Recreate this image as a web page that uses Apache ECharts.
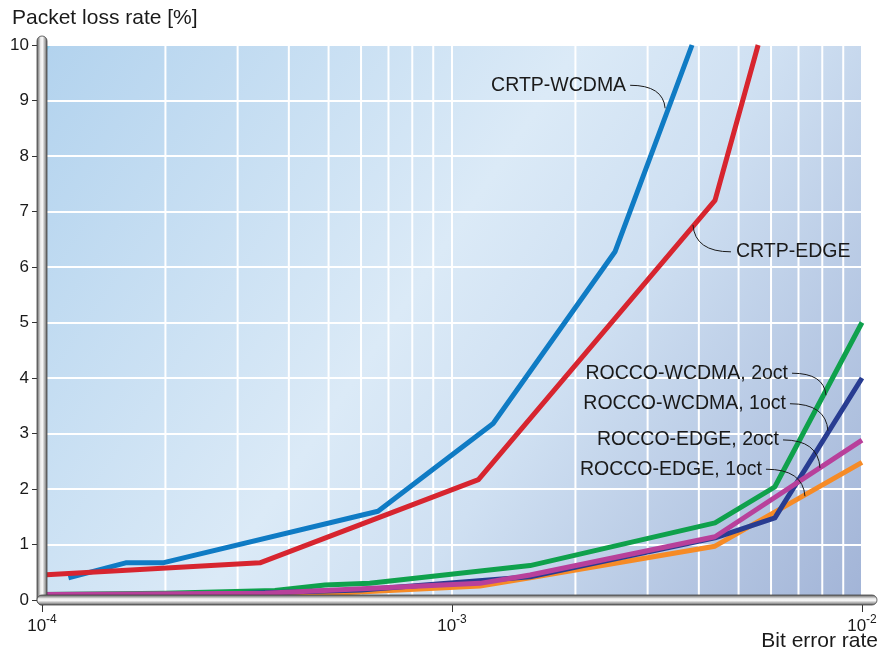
<!DOCTYPE html>
<html><head><meta charset="utf-8">
<script src="https://cdn.jsdelivr.net/npm/echarts@6/dist/echarts.min.js"></script>
<style>html,body{margin:0;padding:0;background:#fff}#c{width:892px;height:654px}</style>
</head><body><div id="c"></div>
<script>
// ---- data ----
const crtpWcdmaX = [1.16e-4, 1.6e-4, 1.97e-4, 6.6e-4, 1.26e-3, 2.5e-3, 3.85e-3];
const crtpWcdmaY = [0.40, 0.67, 0.67, 1.60, 3.18, 6.28, 10.0];
const crtpEdgeX  = [1e-4, 3.4e-4, 1.16e-3, 4.38e-3, 5.58e-3];
const crtpEdgeY  = [0.45, 0.67, 2.17, 7.2, 10.0];
const roccoW2X   = [1e-4, 2e-4, 3.7e-4, 4.9e-4, 6.3e-4, 1.55e-3, 4.38e-3, 6.13e-3, 1e-2];
const roccoW2Y   = [0.10, 0.12, 0.17, 0.27, 0.30, 0.62, 1.39, 2.04, 5.0];
const roccoW1X   = [1e-4, 2.5e-4, 6e-4, 1.55e-3, 4.38e-3, 6.13e-3, 1e-2];
const roccoW1Y   = [0.08, 0.10, 0.18, 0.42, 1.12, 1.48, 4.0];
const roccoE2X   = [1e-4, 3.5e-4, 1.17e-3, 1.55e-3, 4.38e-3, 1e-2];
const roccoE2Y   = [0.10, 0.12, 0.30, 0.45, 1.14, 2.88];
const roccoE1X   = [1e-4, 4e-4, 1.17e-3, 1.55e-3, 4.38e-3, 1e-2];
const roccoE1Y   = [0.05, 0.08, 0.25, 0.40, 0.97, 2.48];

const seriesNames = ['CRTP-WCDMA', 'CRTP-EDGE', 'ROCCO-WCDMA, 2oct', 'ROCCO-WCDMA, 1oct', 'ROCCO-EDGE, 2oct', 'ROCCO-EDGE, 1oct'];
const xMin = 1e-4, xMax = 1e-2;
const yMin = 0, yMax = 10, yStep = 1;
const xMinorGrid = [2e-4,3e-4,4e-4,5e-4,6e-4,7e-4,8e-4,9e-4,2e-3,3e-3,4e-3,5e-3,6e-3,7e-3,8e-3,9e-3];
// label anchors on the curves (data coords)
const annotAnchors = [[3.31e-3, 8.86], [3.87e-3, 6.76], [8.17e-3, 3.69], [8.26e-3, 3.05], [7.9e-3, 2.38], [7.26e-3, 1.87]];

// ---- styling ----
const FONT = '"Liberation Sans", Arial, Helvetica, sans-serif';
const colors = ['#0f7bc4', '#d7252f', '#0fa14c', '#283c91', '#b8409b', '#f68b26'];
const annotOffsets = [[-35,-23,'left'], [38,27,'right'], [-34,-22,'left'], [-38,-27,'left'], [-37,-28,'left'], [-39,-27,'left']];
const drawOrder = [2, 5, 3, 4, 0, 1];

function zip(xs, ys){ return xs.map((x,i)=>[x, ys[i]]); }
const dataSets = [zip(crtpWcdmaX,crtpWcdmaY), zip(crtpEdgeX,crtpEdgeY), zip(roccoW2X,roccoW2Y), zip(roccoW1X,roccoW1Y), zip(roccoE2X,roccoE2Y), zip(roccoE1X,roccoE1Y)];

const series = [{
  type: 'custom', silent: true, z: 1, animation: false,
  data: xMinorGrid.map(v => [v]),
  encode: {x: 0},
  renderItem: function (params, api) {
    const v = api.value(0);
    const a = api.coord([v, yMin]), b = api.coord([v, yMax]);
    return {type: 'line', shape: {x1: a[0], y1: a[1], x2: b[0], y2: b[1]},
      style: {stroke: '#ffffff', lineWidth: 2}};
  }
}];
drawOrder.forEach((idx, k) => {
  series.push({
    name: seriesNames[idx], type: 'line', data: dataSets[idx],
    showSymbol: false, symbol: 'none', clip: true, z: 3 + k,
    lineStyle: {color: colors[idx], width: 5, join: 'round', cap: 'butt'},
    itemStyle: {color: colors[idx]},
    emphasis: {disabled: true}, animation: false
  });
});

const option = {
  backgroundColor: '#ffffff',
  animation: false,
  textStyle: {fontFamily: FONT},
  grid: {
    left: 42, right: 30, top: 45, bottom: 54, show: true, borderWidth: 0,
    containLabel: false, outerBoundsMode: 'none',
    backgroundColor: {type:'linear', x:0, y:0, x2:1, y2:1, colorStops:[
      {offset:0, color:'#8fd3f3'}, {offset:0.007, color:'#8fd3f3'}, {offset:0.008, color:'#b3d3ee'},
      {offset:0.45, color:'#dbeaf7'}, {offset:0.62, color:'#cfe0f2'}, {offset:1, color:'#a2b4d7'}]}
  },
  xAxis: {
    type: 'log', logBase: 10, min: xMin, max: xMax,
    name: 'Bit error rate', nameLocation: 'end', nameGap: 16, nameMoveOverlap: false,
    nameTextStyle: {fontSize: 21, color: '#1a1a1a', align: 'right', verticalAlign: 'top', padding: [31,0,0,0], fontFamily: FONT},
    axisLine: {show: false},
    axisTick: {show: true, length: 12, lineStyle: {color: '#333', width: 1}},
    splitLine: {show: true, lineStyle: {color: '#ffffff', width: 2}},
    axisLabel: {
      margin: 14, color: '#1a1a1a',
      formatter: v => '{b|10}{s|' + Math.round(Math.log10(v)) + '}',
      rich: {b: {fontSize: 17, fontFamily: FONT, color:'#1a1a1a'}, s: {fontSize: 12, fontFamily: FONT, color:'#1a1a1a', padding: [0,0,12,0]}}
    }
  },
  yAxis: {
    type: 'value', min: yMin, max: yMax, interval: yStep,
    name: 'Packet loss rate [%]', nameLocation: 'end', nameGap: 16, nameMoveOverlap: false,
    nameTextStyle: {fontSize: 21, color: '#1a1a1a', align: 'left', padding: [0,0,0,-30], fontFamily: FONT},
    axisLine: {show: false},
    axisTick: {show: true, length: 10, lineStyle: {color: '#333', width: 1}},
    splitLine: {show: true, lineStyle: {color: '#ffffff', width: 2}},
    axisLabel: {fontSize: 17, color: '#1a1a1a', margin: 13, fontFamily: FONT}
  },
  series: series
};

const chart = echarts.init(document.getElementById('c'), null, {renderer: 'canvas'});
chart.setOption(option);

function px(x, y){ return chart.convertToPixel({gridIndex: 0}, [x, y]); }
const p0 = px(xMin, yMin), p1 = px(xMax, yMax);
const L = p0[0], B = p0[1], R = p1[0], T = p1[1];

const barStops = [
  {offset:0, color:'#555'}, {offset:0.18, color:'#9a9a9a'}, {offset:0.38, color:'#eeeeee'},
  {offset:0.55, color:'#f6f6f6'}, {offset:0.8, color:'#a0a0a0'}, {offset:1, color:'#4e4e4e'}];
const graphics = [
  {type:'rect', z: 100, shape:{x: L-5, y: T-9, width: 10, height: (B+5)-(T-9), r: 5},
   style:{fill:{type:'linear', x:0, y:0, x2:1, y2:0, colorStops: barStops}, stroke:'#444', lineWidth: 0.8}},
  {type:'rect', z: 101, shape:{x: L-5, y: B-5, width: (R+15)-(L-5), height: 10, r: 5},
   style:{fill:{type:'linear', x:0, y:0, x2:0, y2:1, colorStops: barStops}, stroke:'#444', lineWidth: 0.8}}
];

annotAnchors.forEach((a, i) => {
  const p = px(a[0], a[1]);
  const off = annotOffsets[i];
  const sx = p[0] + off[0], sy = p[1] + off[1];
  graphics.push({type:'bezierCurve', z: 110,
    shape:{x1: sx, y1: sy, x2: p[0], y2: p[1], cpx1: p[0] - (off[0] < 0 ? 2 : -2), cpy1: sy},
    style:{stroke:'#1a1a1a', lineWidth: 1, fill: 'none'}});
  const left = off[2] === 'left';
  graphics.push({type:'text', z: 110, x: left ? sx - 4 : sx + 5, y: sy,
    style:{text: seriesNames[i], fontSize: 19.5, fontFamily: FONT, fill:'#1a1a1a',
      align: left ? 'right' : 'left', verticalAlign: 'middle',
      textAlign: left ? 'right' : 'left', textVerticalAlign: 'middle'}});
});
chart.setOption({graphic: graphics});
</script>
</body></html>
